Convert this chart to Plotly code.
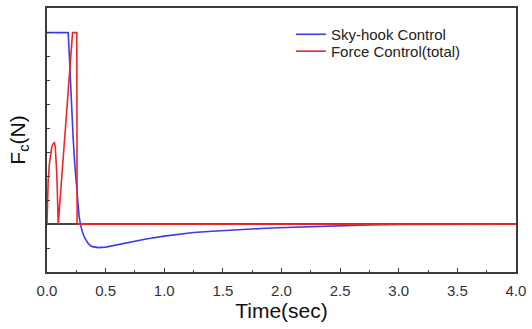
import plotly.graph_objects as go

# Sky-hook control series
t_sky = [0, 0.181, 0.188, 0.195, 0.21, 0.223, 0.237, 0.252, 0.264, 0.274, 0.285, 0.3,
         0.322, 0.35, 0.379, 0.41, 0.435, 0.5, 0.56, 0.7, 0.845, 1.0, 1.127, 1.25, 1.41,
         1.55, 1.69, 1.83, 1.97, 2.26, 2.5, 2.75, 3.0, 3.5, 4.0]
f_sky = [8, 8, 7.3, 6.4, 5.0, 3.6, 2.5, 1.55, 0.85, 0.31, 0, -0.3,
         -0.58, -0.8, -0.93, -0.97, -0.98, -0.96, -0.9, -0.76, -0.62, -0.5, -0.41, -0.35, -0.30,
         -0.25, -0.21, -0.18, -0.15, -0.1, -0.06, -0.03, -0.01, 0, 0]

# Force control (total) series
t_force = [0, 0.004, 0.01, 0.02, 0.03, 0.04, 0.05, 0.058, 0.064, 0.07, 0.076, 0.082,
           0.088, 0.093, 0.096, 0.218, 0.254, 0.257, 4.0]
f_force = [0, 1.0, 1.8, 2.5, 2.95, 3.2, 3.35, 3.4, 3.4, 3.25, 2.85, 2.25,
           1.4, 0.6, 0, 8, 8, 0, 0]

x_ticks = [0.0, 0.5, 1.0, 1.5, 2.0, 2.5, 3.0, 3.5, 4.0]
x_labels = ["0.0", "0.5", "1.0", "1.5", "2.0", "2.5", "3.0", "3.5", "4.0"]

fig = go.Figure()
fig.add_trace(go.Scatter(x=t_sky, y=f_sky, mode="lines", name="Sky-hook Control",
                         line=dict(color="rgb(60,60,235)", width=1.6), legend="legend"))
fig.add_trace(go.Scatter(x=t_force, y=f_force, mode="lines", name="Force Control(total)",
                         line=dict(color="rgb(235,40,40)", width=1.6), legend="legend2"))

axis_col = "#3a3a3a"
leg_common = dict(xanchor="left", yanchor="top", bgcolor="rgba(0,0,0,0)",
                  font=dict(size=15, color="#222"), itemwidth=30)
fig.update_layout(
    width=532, height=329,
    margin=dict(l=47, r=12, t=6, b=57),
    paper_bgcolor="white", plot_bgcolor="white",
    font=dict(family="Liberation Sans, Arial, sans-serif", color="#333"),
    showlegend=True,
    legend=dict(x=0.52, y=0.962, **leg_common),
    legend2=dict(x=0.52, y=0.898, **leg_common),
    xaxis=dict(range=[0, 4.0], tickvals=x_ticks, ticktext=x_labels,
               ticks="inside", ticklen=4, tickcolor=axis_col, tickwidth=1,
               minor=dict(dtick=0.25, ticks="inside", ticklen=2, tickcolor=axis_col),
               showline=True, linecolor=axis_col, linewidth=1.5, mirror=True,
               showgrid=False, zeroline=False, ticklabelstandoff=4,
               tickfont=dict(size=15, color="#333"),
               title=dict(text="Time(sec)", font=dict(size=21, color="#111"), standoff=4)),
    yaxis=dict(range=[-2, 9.03], dtick=1, tick0=0,
               ticks="inside", ticklen=3, tickcolor=axis_col,
               showticklabels=False,
               showline=True, linecolor=axis_col, linewidth=1.5, mirror=True,
               showgrid=False, zeroline=True, zerolinecolor="#444", zerolinewidth=1.5,
               title=dict(text="F<sub>c</sub>(N)", font=dict(size=21, color="#111"), standoff=14)),
)

fig.write_html("out.html")
